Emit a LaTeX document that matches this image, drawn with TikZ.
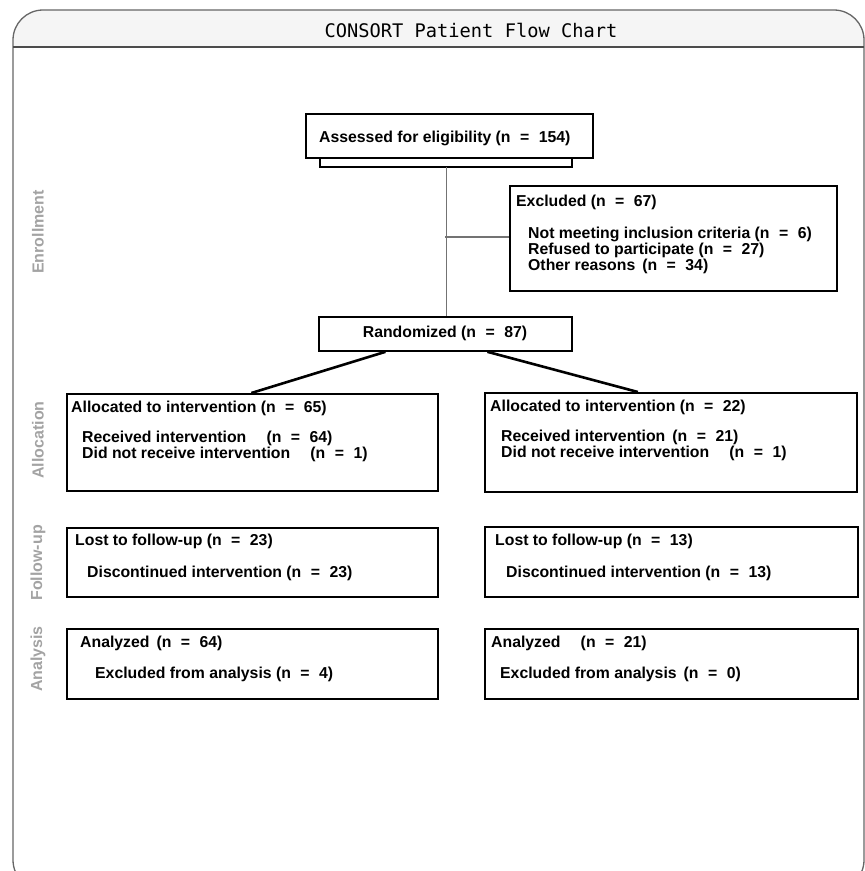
\documentclass[tikz,border=0pt]{standalone}
\usepackage{fontspec}
\setmainfont{Liberation Sans}
\newfontfamily\titlemono{DejaVu Sans Mono}
\newcommand{\nnum}[1]{(n\hspace{0.6em}=\hspace{0.6em}#1)}
\begin{document}
\begin{tikzpicture}[x=1pt,y=-1pt,
  framecol/.style={draw=black!60, line width=1.3pt},
  box/.style={draw=black, line width=1.8pt, inner sep=0pt, anchor=north west},
  txt/.style={font=\bfseries\fontsize{15.8}{18}\selectfont, inner sep=0pt, anchor=base west},
  ctxt/.style={font=\bfseries\fontsize{15.8}{18}\selectfont},
  sec/.style={font=\bfseries\fontsize{16}{18}\selectfont, text=black!36, rotate=90, inner sep=0pt},
  thin/.style={draw=black!55, line width=1.1pt},
  diag/.style={draw=black, line width=2.6pt}]
\useasboundingbox (0,0) rectangle (865,871);
% frame
\begin{scope}
\clip (0,0) rectangle (865,871);
\begin{scope}
\clip[rounded corners=30pt] (13,10) rectangle (864,890);
\fill[black!4] (13,10) rectangle (864,47);
\end{scope}
\draw[framecol, rounded corners=30pt] (13,10) rectangle (864,890);
\draw[draw=black!70, line width=2.2pt] (13,47) -- (864,47);
\end{scope}
\node[font=\titlemono\fontsize{18.7}{22}\selectfont] (title) at (471,30) {CONSORT Patient Flow Chart};
% section labels
\node[sec] (enr) at (38,232) {Enrollment};
\node[sec] (alc) at (38,440) {Allocation};
\node[sec] (fol) at (38,563) {Follow-up};
\node[sec] (ana) at (38,659) {Analysis};
% enrollment
\node[box, minimum width=287pt, minimum height=44pt] (assess) at (305,113) {};
\node[txt] (assessT) at (319,142) {Assessed for eligibility \nnum{154}};
\node[inner sep=0pt, minimum width=252pt, minimum height=10pt, anchor=north west] (brk) at (320,157) {};
\draw[black, line width=2pt] (brk.north west) -- (brk.south west) -- (brk.south east) -- (brk.north east);
\node[box, minimum width=327pt, minimum height=105pt] (excl) at (509,185) {};
\node[txt] (exclT) at (516,206) {Excluded \nnum{67}};
\node[txt] (excl1) at (528,238) {Not meeting inclusion criteria \nnum{6}};
\node[txt] (excl2) at (528,254) {Refused to participate \nnum{27}};
\node[txt] (excl3) at (528,270) {Other reasons \,\nnum{34}};
\node[box, minimum width=253pt, minimum height=34pt] (rand) at (318,316) {};
\node[ctxt] (randT) at (445,333) {Randomized \nnum{87}};
\coordinate (junc) at (445,237);
\draw[thin] (brk.south) -- (brk.south |- rand.north);
\draw[thin] (junc) -- (excl.west |- junc);
% allocation
\node[box, minimum width=371pt, minimum height=97pt] (allocL) at (66,393) {};
\node[txt] (allocLT) at (71,412) {Allocated to intervention \nnum{65}};
\node[txt] (allocL1) at (82,442) {Received intervention \quad\nnum{64}};
\node[txt] (allocL2) at (82,458) {Did not receive intervention \quad\nnum{1}};
\node[box, minimum width=372pt, minimum height=99pt] (allocR) at (484,392) {};
\node[txt] (allocRT) at (490,411) {Allocated to intervention \nnum{22}};
\node[txt] (allocR1) at (501,441) {Received intervention \,\nnum{21}};
\node[txt] (allocR2) at (501,457) {Did not receive intervention \quad\nnum{1}};
\draw[diag] ([xshift=-60pt]rand.south) -- ([xshift=-1pt]allocL.north);
\draw[diag] ([xshift=42pt]rand.south) -- ([xshift=-33pt]allocR.north);
% follow-up
\node[box, minimum width=371pt, minimum height=69pt] (folL) at (66,527) {};
\node[txt] (folLT) at (75,545) {Lost to follow-up \nnum{23}};
\node[txt] (folL1) at (87,577) {Discontinued intervention \nnum{23}};
\node[box, minimum width=373pt, minimum height=70pt] (folR) at (484,526) {};
\node[txt] (folRT) at (495,545) {Lost to follow-up \nnum{13}};
\node[txt] (folR1) at (506,577) {Discontinued intervention \nnum{13}};
% analysis
\node[box, minimum width=371pt, minimum height=70pt] (anaL) at (66,628) {};
\node[txt] (anaLT) at (80,647) {Analyzed \,\nnum{64}};
\node[txt] (anaL1) at (95,678) {Excluded from analysis \nnum{4}};
\node[box, minimum width=373pt, minimum height=70pt] (anaR) at (484,628) {};
\node[txt] (anaRT) at (491,647) {Analyzed \quad\nnum{21}};
\node[txt] (anaR1) at (500,678) {Excluded from analysis \,\nnum{0}};
\end{tikzpicture}
\end{document}
